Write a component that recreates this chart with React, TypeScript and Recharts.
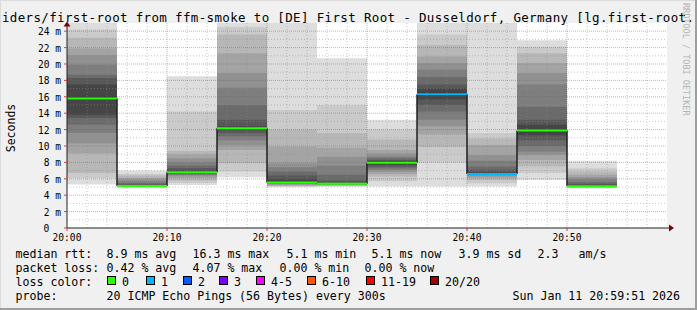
import React from 'react';
import { ComposedChart, Area, XAxis, YAxis, CartesianGrid, ReferenceLine, ReferenceDot } from 'recharts';

// 5 minute steps, minutes after 20:00
const stepStart = [0, 5, 10, 15, 20, 25, 30, 35, 40, 45, 50];
const medianRtt = [15.8, 5.13, 6.8, 12.15, 5.55, 5.41, 7.97, 16.3, 6.6, 11.9, 5.1];
const lostPings = [0, 0, 0, 0, 0, 0, 0, 1, 1, 0, 0];

// sorted ping rtt (ms), 20 pings per step
const pings2000 = [5.3, 6.1, 6.7, 9.1, 10.3, 11.6, 12.6, 13.4, 13.8, 15.6, 16.0, 17.5, 18.3, 18.7, 19.9, 21.1, 21.9, 23.2, 24.2, 25.6];
const pings2005 = [4.95, 4.98, 5.0, 5.02, 5.05, 5.07, 5.09, 5.1, 5.11, 5.12, 5.14, 5.2, 5.3, 5.5, 5.7, 5.9, 6.1, 6.4, 6.6, 7.0];
const pings2010 = [5.25, 5.5, 5.8, 6.1, 6.3, 6.45, 6.55, 6.65, 6.7, 6.75, 6.85, 7.0, 7.3, 7.6, 8.0, 8.5, 9.0, 9.4, 14.2, 18.5];
const pings2015 = [6.2, 6.9, 7.9, 9.5, 10.1, 10.7, 11.2, 11.6, 12.0, 12.1, 12.2, 12.4, 13.2, 15.0, 17.1, 18.9, 21.3, 23.6, 24.5, 25.6];
const pings2020 = [4.97, 5.05, 5.12, 5.2, 5.3, 5.38, 5.45, 5.5, 5.53, 5.54, 5.56, 5.9, 6.4, 6.9, 7.4, 7.9, 9.9, 12.0, 14.4, 25.6];
const pings2025 = [5.05, 5.1, 5.15, 5.2, 5.25, 5.3, 5.33, 5.36, 5.39, 5.4, 5.42, 5.5, 5.8, 6.5, 7.6, 8.7, 9.8, 11.6, 15.0, 20.7];
const pings2030 = [5.05, 5.7, 6.27, 6.6, 6.87, 7.1, 7.28, 7.5, 7.7, 7.9, 8.04, 8.2, 8.3, 8.5, 8.7, 9.1, 9.5, 10.8, 12.0, 13.2];
const pings2035 = [5.05, 8.0, 9.9, 11.4, 12.4, 13.2, 14.2, 15.0, 15.7, 16.1, 16.5, 17.0, 17.5, 18.4, 19.3, 20.1, 20.9, 22.3, 23.6, 25.6];
const pings2040 = [5.05, 5.46, 5.86, 6.1, 6.3, 6.47, 6.55, 6.58, 6.59, 6.6, 6.6, 6.76, 7.1, 7.5, 8.2, 8.9, 10.1, 10.9, 11.6, 25.6];
const pings2045 = [5.86, 6.7, 7.5, 8.3, 8.9, 9.3, 10.0, 10.7, 11.3, 11.8, 12.0, 12.6, 13.2, 14.8, 17.5, 18.9, 20.1, 21.3, 22.1, 22.9];
const pings2050 = [4.85, 4.9, 4.95, 5.0, 5.03, 5.05, 5.07, 5.08, 5.09, 5.09, 5.11, 5.2, 5.4, 5.6, 5.9, 6.2, 6.5, 6.9, 7.3, 8.2];
const pingRows = [pings2000, pings2005, pings2010, pings2015, pings2020, pings2025, pings2030, pings2035, pings2040, pings2045, pings2050];

const xTicks = [0, 10, 20, 30, 40, 50];
const xTickLabels = ['20:00', '20:10', '20:20', '20:30', '20:40', '20:50'];
const xMinor = [2, 4, 6, 8, 12, 14, 16, 18, 22, 24, 26, 28, 32, 34, 36, 38, 42, 44, 46, 48, 52, 54, 56, 58];
const yTicks = [0, 2, 4, 6, 8, 10, 12, 14, 16, 18, 20, 22, 24];
const yMinor = [1, 3, 5, 7, 9, 11, 13, 15, 17, 19, 21, 23];

// outer smoke layer first, darkest near the median
const smokeShades = ['#dddddd', '#cacaca', '#b7b7b7', '#a4a4a4', '#919191', '#7e7e7e', '#6b6b6b', '#585858', '#454545', '#323232'];

const lossLabels = ['0', '1', '2', '3', '4-5', '6-10', '11-19', '20/20'];
const lossColors = ['#26ff00', '#00b8ff', '#0059ff', '#7e00ff', '#ff00ff', '#ff5500', '#ff0000', '#a10000'];
const lossBoxX = [107, 146, 183, 219, 256, 307, 366, 430];

const lossColor = (n: number) => {
  if (n <= 3) return lossColors[n];
  if (n <= 5) return lossColors[4];
  if (n <= 10) return lossColors[5];
  if (n <= 19) return lossColors[6];
  return lossColors[7];
};

const rows: any[] = stepStart.map((t, i) => {
  const row: any = { t };
  smokeShades.forEach((_, k) => {
    row['s' + k] = [pingRows[i][k], pingRows[i][19 - k]];
  });
  return row;
});
rows.push({ ...rows[rows.length - 1], t: 55 });

const mono = 'DejaVu Sans Mono';

const YTick = (p: any) => {
  const v = p.payload.value;
  return (
    <text x={v === 0 ? p.x - 11.6 : p.x} y={p.y} dy={4} textAnchor="end" fontFamily={mono} fontSize={9.6} fill="#000">
      {v === 0 ? '0' : `${v} m`}
    </text>
  );
};

const XTick = (p: any) => (
  <text x={p.x} y={p.y} dy={7.5} textAnchor="middle" fontFamily={mono} fontSize={9.6} fill="#000">
    {xTickLabels[xTicks.indexOf(p.payload.value)]}
  </text>
);

const XArrow = (p: any) => (
  <g>
    <line x1={p.cx} x2={p.cx + 3} y1={p.cy} y2={p.cy} stroke="#222" />
    <path d={`M${p.cx + 2},${p.cy - 3.5}L${p.cx + 7},${p.cy}L${p.cx + 2},${p.cy + 3.5}Z`} fill="#7f0000" />
  </g>
);

const YArrow = (p: any) => (
  <path d={`M${p.cx - 3.5},${p.cy + 3.5}L${p.cx},${p.cy - 1.5}L${p.cx + 3.5},${p.cy + 3.5}Z`} fill="#7f0000" />
);

const legendText = (x: number, y: number, s: string) => (
  <text x={x} y={y} fontFamily={mono} fontSize={11.6} fill="#000" style={{ whiteSpace: 'pre' }}>{s}</text>
);

export default function App() {
  return (
    <div style={{ position: 'relative', width: 697, height: 310, background: '#f0f0f0' }}>
      <style>{'body{margin:0}'}</style>
      <ComposedChart width={697} height={310} data={rows} margin={{ top: 23, right: 30, bottom: 62, left: 7 }}>
        <CartesianGrid fill="#ffffff" horizontal={false} vertical={false} />
        <XAxis dataKey="t" type="number" domain={[0, 60]} ticks={xTicks} interval={0} height={20}
          allowDataOverflow tickSize={3} tick={<XTick />} axisLine={{ stroke: '#222' }} tickLine={{ stroke: '#d04040' }} />
        <YAxis type="number" domain={[0, 25]} ticks={yTicks} interval={0} width={60}
          allowDataOverflow tickSize={3} tickMargin={3} tick={<YTick />} axisLine={{ stroke: '#222' }} tickLine={{ stroke: '#d04040' }} />
        {smokeShades.map((c, k) => (
          <Area key={c} dataKey={'s' + k} type="stepAfter" fill={c} fillOpacity={1} stroke="none"
            dot={false} activeDot={false} isAnimationActive={false} />
        ))}
        {xMinor.map(v => <ReferenceLine key={'xm' + v} x={v} stroke="#8f8f8f" strokeOpacity={0.5} strokeDasharray="1 2" />)}
        {yMinor.map(v => <ReferenceLine key={'ym' + v} y={v} stroke="#8f8f8f" strokeOpacity={0.5} strokeDasharray="1 2" />)}
        {xTicks.filter(v => v > 0).map(v => <ReferenceLine key={'xM' + v} x={v} stroke="#de3030" strokeOpacity={0.45} strokeDasharray="1 1" />)}
        {yTicks.filter(v => v > 0).map(v => <ReferenceLine key={'yM' + v} y={v} stroke="#de3030" strokeOpacity={0.45} strokeDasharray="1 1" />)}
        {stepStart.slice(1).map((t, i) => (
          <ReferenceLine key={'v' + t} segment={[{ x: t, y: medianRtt[i] }, { x: t, y: medianRtt[i + 1] }]} stroke="#202020" strokeWidth={1.5} />
        ))}
        {stepStart.map((t, i) => (
          <ReferenceLine key={'m' + t} segment={[{ x: t, y: medianRtt[i] }, { x: t + 5, y: medianRtt[i] }]}
            stroke={lossColor(lostPings[i])} strokeWidth={2} />
        ))}
        <ReferenceDot x={60} y={0} ifOverflow="visible" shape={XArrow} />
        <ReferenceDot x={0} y={25} ifOverflow="visible" shape={YArrow} />
      </ComposedChart>
      <svg width={697} height={310} style={{ position: 'absolute', left: 0, top: 0, pointerEvents: 'none' }}>
        <text x={2} y={22} fontFamily={mono} fontSize={12.5} fill="#000" textLength={692} lengthAdjust="spacing">
          iders/first-root from ffm-smoke to [DE] First Root - Dusseldorf, Germany [lg.first-root.
        </text>
        <text transform="translate(15,128) rotate(-90)" textAnchor="middle" fontFamily={mono} fontSize={11.5} fill="#000">Seconds</text>
        <text transform="translate(683,3) rotate(90)" fontFamily={mono} fontSize={8.5} fill="#b4b4b4">RRDTOOL / TOBI OETIKER</text>

        {legendText(15.5, 258, 'median rtt:')}
        {legendText(106.5, 258, '8.9 ms avg')}
        {legendText(192.5, 258, '16.3 ms max')}
        {legendText(286.5, 258, '5.1 ms min')}
        {legendText(371.5, 258, '5.1 ms now')}
        {legendText(458.5, 258, '3.9 ms sd')}
        {legendText(537.5, 258, '2.3')}
        {legendText(578.5, 258, 'am/s')}

        {legendText(15.5, 272, 'packet loss:')}
        {legendText(106.5, 272, '0.42 % avg')}
        {legendText(192.5, 272, '4.07 % max')}
        {legendText(279.5, 272, '0.00 % min')}
        {legendText(364.5, 272, '0.00 % now')}

        {legendText(15.5, 286, 'loss color:')}
        {lossLabels.map((l, i) => (
          <g key={l}>
            <rect x={lossBoxX[i] + 0.5} y={276.5} width={8} height={8} fill={lossColors[i]} stroke="#000" strokeWidth={1} />
            {legendText(lossBoxX[i] + 15, 286, l)}
          </g>
        ))}

        {legendText(15.5, 299.5, 'probe:')}
        {legendText(106.5, 299.5, '20 ICMP Echo Pings (56 Bytes) every 300s')}
        {legendText(512.5, 299.5, 'Sun Jan 11 20:59:51 2026')}

        <rect x={0} y={0} width={697} height={1} fill="#dcdcdc" />
        <rect x={0} y={0} width={1} height={310} fill="#dcdcdc" />
        <rect x={695} y={0} width={2} height={310} fill="#9e9e9e" />
        <rect x={0} y={308} width={697} height={2} fill="#9e9e9e" />
      </svg>
    </div>
  );
}
